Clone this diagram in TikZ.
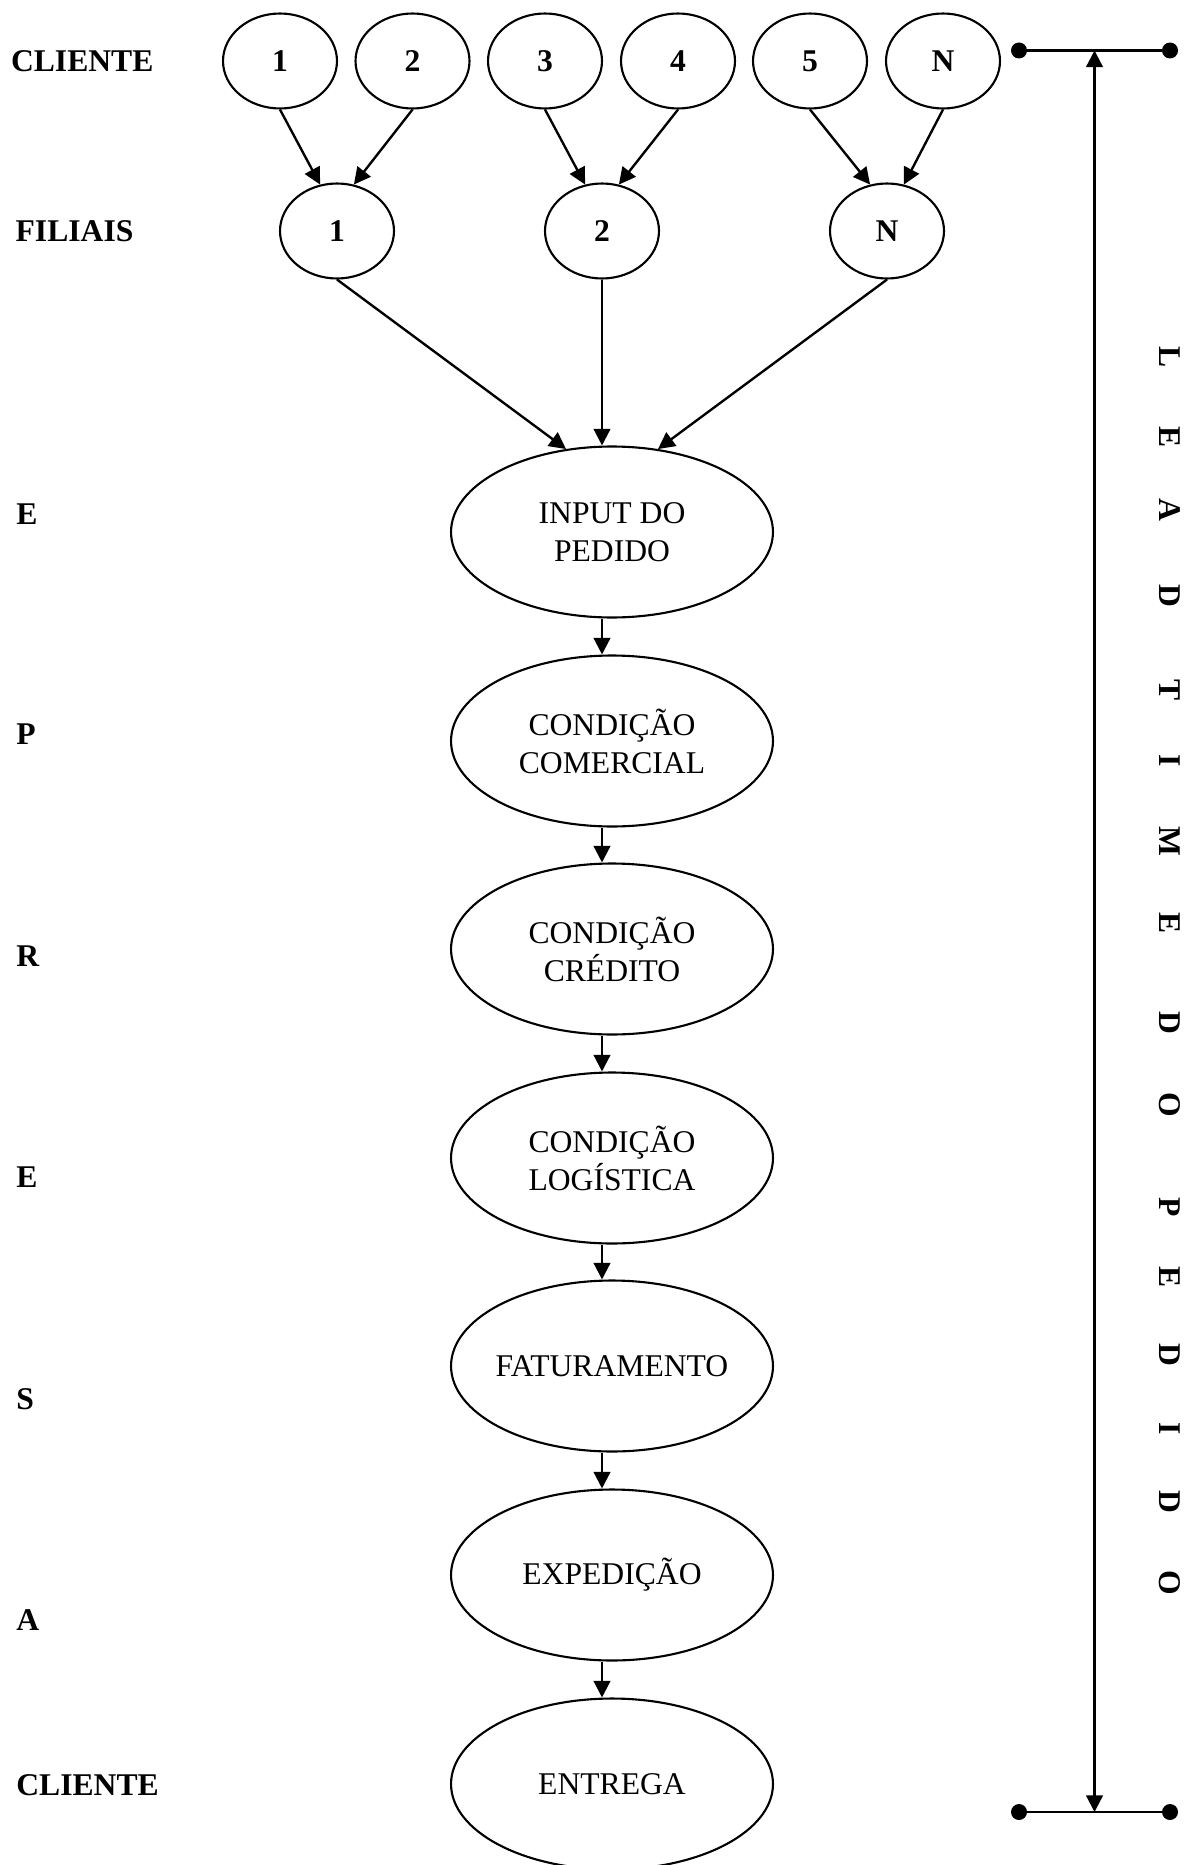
\documentclass[tikz,border=0pt]{standalone}
\usepackage{fontspec}
\setmainfont{Liberation Serif}
\usetikzlibrary{arrows.meta,shapes.geometric,calc}
\begin{document}
\begin{tikzpicture}[x=0.02cm,y=-0.02cm,
  every node/.style={font=\fontsize{18pt}{21.6pt}\selectfont, inner sep=0pt},
  client/.style={draw, line width=1.2pt, ellipse, minimum width=2.28cm, minimum height=1.9cm,
    font=\fontsize{18pt}{21.6pt}\selectfont\bfseries},
  proc/.style={draw, line width=1.2pt, ellipse, minimum width=6.44cm, minimum height=3.42cm,
    align=center, inner xsep=-1.5cm},
  flow/.style={line width=1.35pt, -{Triangle[length=9.5pt,width=9.5pt]}},
  lbl/.style={anchor=west, font=\fontsize{18pt}{21.6pt}\selectfont\bfseries},
  leadletter/.style={rotate=-90, font=\fontsize{18pt}{21.6pt}\selectfont\bfseries},
  dot/.style={circle, fill=black, minimum size=0.32cm, inner sep=0pt},
  bar/.style={line width=1.35pt}
]
\clip (0,0) rectangle (1187,1865);
\useasboundingbox (0,0) rectangle (1187,1865);

% left labels
\node[lbl] (lcli) at (10.7,61) {CLIENTE};
\node[lbl] (lfil) at (15.3,231) {FILIAIS};
\node[lbl] (le1) at (16,514) {E};
\node[lbl] (lp) at (16,734) {P};
\node[lbl] (lr) at (16,956) {R};
\node[lbl] (le2) at (16,1177) {E};
\node[lbl] (ls) at (16,1399) {S};
\node[lbl] (la) at (16,1620) {A};
\node[lbl] (lcli2) at (16,1785) {CLIENTE};

% clients
\node[client] (c1) at (280,61) {1};
\node[client] (c2) at (412.5,61) {2};
\node[client] (c3) at (545,61) {3};
\node[client] (c4) at (678,61) {4};
\node[client] (c5) at (810,61) {5};
\node[client] (cn) at (943,61) {N};

% branches
\node[client] (f1) at (337,231) {1};
\node[client] (f2) at (602,231) {2};
\node[client] (fn) at (887,231) {N};

% process ellipses
\node[proc] (in) at (612,532) {INPUT DO\\PEDIDO};
\node[proc] (cc) at (612,741) {CONDIÇÃO\\COMERCIAL};
\node[proc] (cr) at (612,949) {CONDIÇÃO\\CRÉDITO};
\node[proc] (cl) at (612,1158) {CONDIÇÃO\\LOGÍSTICA};
\node[proc] (fa) at (612,1366) {FATURAMENTO};
\node[proc] (ex) at (612,1575) {EXPEDIÇÃO};
\node[proc] (en) at (612,1784) {ENTREGA};

% client -> branch arrows
\draw[flow] (c1.south) -- (f1.110);
\draw[flow] (c2.south) -- (f1.70);
\draw[flow] (c3.south) -- (f2.110);
\draw[flow] (c4.south) -- (f2.70);
\draw[flow] (c5.south) -- (fn.110);
\draw[flow] (cn.south) -- (fn.70);

% branch -> input
\draw[flow] (f1.south) -- (in.119);
\draw[flow] (f2.south) -- (f2.south |- in.north);
\draw[flow] (fn.south) -- (in.61);

% chain
\draw[flow] (in.south -| f2) -- (cc.north -| f2);
\draw[flow] (cc.south -| f2) -- (cr.north -| f2);
\draw[flow] (cr.south -| f2) -- (cl.north -| f2);
\draw[flow] (cl.south -| f2) -- (fa.north -| f2);
\draw[flow] (fa.south -| f2) -- (ex.north -| f2);
\draw[flow] (ex.south -| f2) -- (en.north -| f2);

% lead time bracket
\node[dot] (tl) at (1019,50.5) {};
\node[dot] (tr) at (1170,50.5) {};
\node[dot] (bl) at (1019,1812) {};
\node[dot] (br) at (1170,1812) {};
\draw[bar] (tl) -- (tr);
\draw[bar] (bl) -- (br);
\coordinate (vt) at ($(tl)!0.5!(tr)$);
\coordinate (vb) at ($(bl)!0.5!(br)$);
\draw[line width=1.35pt, {Triangle[length=9.5pt,width=9.5pt]}-{Triangle[length=9.5pt,width=9.5pt]}] (vt) -- (vb);

% lead time letters
\foreach \yy/\ch [count=\k] in {357/L,437/E,510/A,596/D,690/T,761/I,841/M,923/E,1023/D,1105/O,1207/P,1277/E,1355/D,1429/I,1502/D,1583/O}
  \node[leadletter] (lead\k) at (1170,\yy) {\ch};
\end{tikzpicture}
\end{document}
